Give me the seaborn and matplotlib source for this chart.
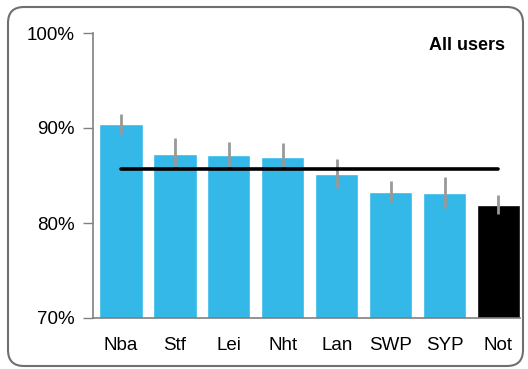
import matplotlib
matplotlib.use("Agg")
import matplotlib.pyplot as plt
import seaborn as sns
from matplotlib.patches import FancyBboxPatch
from matplotlib.transforms import IdentityTransform
from matplotlib.ticker import FuncFormatter

#------------------------------------------------------------------------------------------

groups   = ['Nba', 'Stf', 'Lei', 'Nht', 'Lan', 'SWP', 'SYP', 'Not']
share    = [90.4, 87.3, 87.2, 87.0, 85.2, 83.3, 83.2, 81.9]     # % of users
err      = [1.05, 1.6, 1.35, 1.4, 1.5, 1.1, 1.6, 1.0]
average  = 85.7
title    = 'All users'

colors = {g: '#33B8E8' for g in groups}
colors['Not'] = '#000000'

#------------------------------------------------------------------------------------------

sns.set_style('white')
plt.rcParams['font.family'] = ['Liberation Sans', 'DejaVu Sans']
plt.rcParams['text.color'] = 'black'
plt.rcParams['xtick.color'] = 'black'
plt.rcParams['ytick.color'] = 'black'

fig = plt.figure(figsize=(5.28, 3.69), dpi=100)
ax = fig.add_axes([93 / 528, 1 - 318 / 369, 427 / 528, 285 / 369])

sns.barplot(x=groups, y=share, hue=groups, palette=colors, width=0.8,
            saturation=1, legend=False, ax=ax, zorder=1)
ax.errorbar(groups, share, yerr=err, fmt='none', ecolor='#999999',
            elinewidth=2, capsize=0, zorder=2)
ax.plot(groups, [average] * len(groups), color='black', lw=2.6, zorder=3)

ax.set_ylim(70, 100)
ax.set_xlim(-0.52, 7.4)
ax.set_yticks([70, 80, 90, 100])
ax.yaxis.set_major_formatter(FuncFormatter(lambda v, p: f'{v:.0f}%'))

for side in ['top', 'right']:
    ax.spines[side].set_visible(False)
for side in ['left', 'bottom']:
    ax.spines[side].set_color('#808080')
    ax.spines[side].set_linewidth(1.2)

ax.tick_params(axis='y', left=True, length=7, width=1, color='#808080',
               labelcolor='black', labelsize=13.5, pad=6)
ax.tick_params(axis='x', bottom=False, labelcolor='black', labelsize=13.5, pad=10)
ax.set_xlabel('')
ax.set_ylabel('')

ax.text(0.965, 0.985, title, transform=ax.transAxes, ha='right', va='top',
        fontsize=13, fontweight='bold', color='black')

# rounded frame around the whole chart
frame = FancyBboxPatch((8, 3), 515, 359, boxstyle='round,pad=0,rounding_size=16',
                       transform=IdentityTransform(), fill=False,
                       edgecolor='#6f6f6f', lw=1.5)
fig.patches.append(frame)

fig.savefig('out.png', dpi=100)
